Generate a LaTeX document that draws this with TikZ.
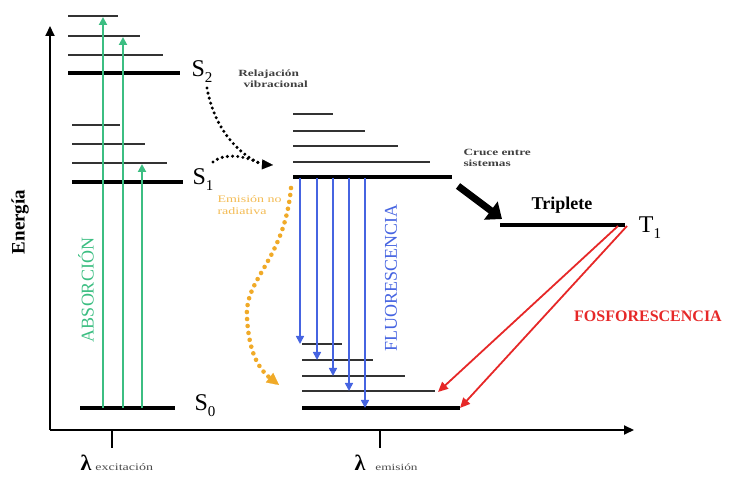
\documentclass[tikz,border=0pt]{standalone}
\usepackage{fontspec}
\setmainfont{Liberation Serif}
\newfontfamily\widefont[FakeStretch=1.4]{Liberation Serif}
\usetikzlibrary{arrows.meta, positioning}

\definecolor{absgreen}{RGB}{60,190,130}
\definecolor{fluoblue}{RGB}{70,100,225}
\definecolor{nrorange}{RGB}{240,170,40}
\definecolor{fosred}{RGB}{230,40,40}

% state label with a big subscript
\newcommand{\statelbl}[2]{{\fontsize{24}{24}\selectfont #1}\raisebox{-6pt}{\fontsize{15}{15}\selectfont #2}}

\begin{document}
\begin{tikzpicture}[x=1pt, y=-1pt,
    level/.style={line width=2.2pt, black!80},
    ground/.style={line width=4.4pt},
    absarrow/.style={absgreen, line width=2pt, -{Triangle[length=8pt,width=8pt]}},
    fluoarrow/.style={fluoblue, line width=1.6pt, -{Triangle[length=8pt,width=8pt]}},
    fosarrow/.style={fosred, line width=1.8pt, -{Triangle[length=10pt,width=9pt]}},
    relax/.style={line width=3.4pt, dash pattern=on 0pt off 5.2pt, line cap=round},
    smalltxt/.style={font=\widefont\fontsize{9.5}{11}\selectfont\bfseries, black!75, align=center}]
    \useasboundingbox (0,0) rectangle (732,478);

    % Axes
    \coordinate (origin) at (50,430);
    \coordinate (ytop) at (50,26);
    \coordinate (xend) at (634,430);
    \draw[line width=2pt, -{Triangle[length=10pt,width=9pt]}] (origin) -- (ytop);
    \draw[line width=2pt, -{Triangle[length=10pt,width=9pt]}] (origin) -- (xend);
    \node[rotate=90, font=\fontsize{19}{19}\selectfont\bfseries] (energia) at (20,222) {Energía};

    % Ticks and wavelengths
    \draw[line width=1.4pt] (112,430) -- (112,448);
    \draw[line width=1.4pt] (380,430) -- (380,448);
    \node[font=\fontsize{22}{22}\selectfont\bfseries] (lamexc) at (86,463) {λ};
    \node[font=\widefont\fontsize{10}{10}\selectfont, black!70, right=-3pt of lamexc.south east, anchor=south west] (excit) {excitación};
    \node[font=\fontsize{22}{22}\selectfont\bfseries] (lamemi) at (360,463) {λ};
    \node[font=\widefont\fontsize{9.5}{9.5}\selectfont, black!70, right=3pt of lamemi.south east, anchor=south west] (emis) {emisión};

    % Singlet levels, absorption side
    \draw[level] (68,16) -- (118,16);
    \draw[level] (68,36) -- (140,36);
    \draw[level] (68,55) -- (163,55);
    \draw[ground] (68,73) -- (180,73);
    \draw[level] (72,125) -- (120,125);
    \draw[level] (72,144) -- (145,144);
    \draw[level] (72,163) -- (167,163);
    \draw[ground] (72,182) -- (183,182);
    \draw[ground] (80,408) -- (175,408);
    \node (s2) at (202,72) {\statelbl{S}{2}};
    \node (s1) at (203,180) {\statelbl{S}{1}};
    \node (s0) at (205,406) {\statelbl{S}{0}};

    % Absorption
    \foreach \i/\x/\y in {1/103/17, 2/123/37, 3/142/164} {
        \coordinate (a\i) at (\x,408);
        \coordinate (b\i) at (\x,\y);
        \draw[absarrow] (a\i) -- (b\i);
    }
    \node[rotate=90, absgreen, font=\fontsize{18}{18}\selectfont] (absorcion) at (86,290) {ABSORCIÓN};

    % Singlet levels, emission side
    \draw[level] (293,114) -- (333,114);
    \draw[level] (293,131) -- (365,131);
    \draw[level] (293,146) -- (398,146);
    \draw[level] (293,162) -- (430,162);
    \draw[ground] (293,177) -- (452,177);
    \draw[level] (302,344) -- (342,344);
    \draw[level] (302,360) -- (373,360);
    \draw[level] (302,376) -- (405,376);
    \draw[level] (302,391) -- (435,391);
    \draw[ground] (302,408) -- (460,408);

    % Fluorescence
    \foreach \i/\x/\y in {1/300/344, 2/317/360, 3/333/376, 4/349/391, 5/365/408} {
        \coordinate (f\i) at (\x,178);
        \coordinate (g\i) at (\x,\y);
        \draw[fluoarrow] (f\i) -- (g\i);
    }
    \node[rotate=90, fluoblue, font=\fontsize{18}{18}\selectfont] (fluo) at (391,278) {FLUORESCENCIA};

    % Vibrational relaxation
    \coordinate (r2) at (207,88);
    \coordinate (r1) at (213,162);
    \coordinate (rend) at (273,165);
    \draw[relax] (r2) .. controls (214,128) and (238,154) .. (261,164);
    \draw[relax] (r1) .. controls (224,153) and (244,155) .. (261,164);
    \draw[-{Triangle[length=11pt,width=10pt]}, line width=0.1pt] (262,164.4) -- (rend);
    \node[smalltxt, anchor=north west] (relajtxt) at (226,66) {Relajación\\ \hspace*{14pt}vibracional};

    % Non radiative emission
    \coordinate (n1) at (291,188);
    \coordinate (n2) at (279,385);
    \draw[relax, nrorange, line width=4.6pt, dash pattern=on 0pt off 7pt] (n1) .. controls (284,262) and (244,278) .. (247,318) .. controls (249,352) and (258,368) .. (270,378);
    \draw[nrorange, -{Triangle[length=12pt,width=12pt]}, line width=0.1pt] (270,378) -- (n2);
    \node[font=\widefont\fontsize{10}{12}\selectfont, nrorange!80, align=left, anchor=north west] (nrtxt) at (214,192) {Emisión no\\radiativa};

    % Intersystem crossing
    \node[smalltxt, align=left, anchor=north west] (crucetxt) at (460,146) {Cruce entre\\sistemas};
    \coordinate (c1) at (458,186);
    \coordinate (c2) at (502,219);
    \draw[line width=7pt, -{Triangle[length=14pt,width=22pt]}] (c1) -- (c2);

    % Triplet
    \draw[ground] (500,225) -- (625,225);
    \node[font=\fontsize{18}{18}\selectfont\bfseries] (triplete) at (562,205) {Triplete};
    \node (t1) at (650,228) {\statelbl{T}{1}};

    % Phosphorescence
    \coordinate (p1) at (618,226);
    \coordinate (p2) at (627,226);
    \coordinate (q1) at (438,392);
    \coordinate (q2) at (460,408);
    \draw[fosarrow] (p1) -- (q1);
    \draw[fosarrow] (p2) -- (q2);
    \node[fosred, font=\fontsize{16}{16}\selectfont\bfseries] (fostxt) at (648,316) {FOSFORESCENCIA};
\end{tikzpicture}
\end{document}
